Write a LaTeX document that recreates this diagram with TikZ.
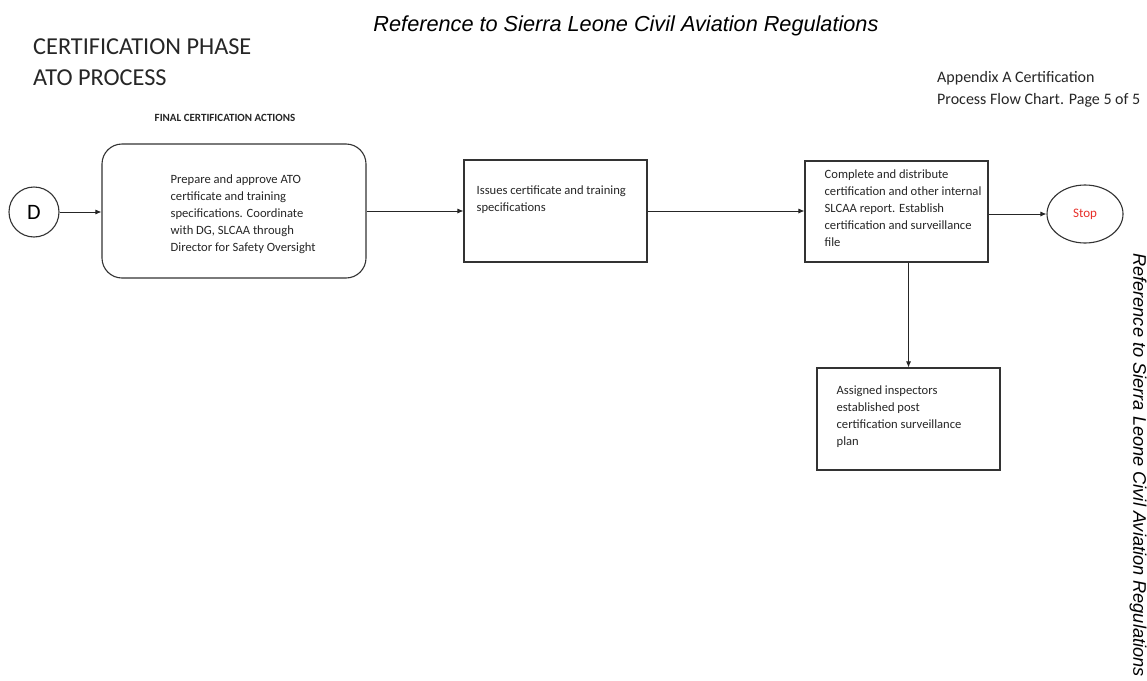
\documentclass[tikz,border=0pt]{standalone}
\usepackage{fontspec}
\setmainfont{Carlito}
\newfontfamily\arialfont{Liberation Sans}
\usetikzlibrary{shapes.geometric,arrows.meta,calc}
\definecolor{lineg}{HTML}{333333}
\definecolor{stopred}{HTML}{E8302A}
\tikzset{
  boxshape/.style={draw=lineg, line width=1.1pt, inner sep=0pt},
  circshape/.style={draw=lineg, line width=1.1pt, circle, minimum size=50pt, inner sep=0pt},
  boxtext/.style={inner sep=0pt, align=left, font=\fontsize{12.6}{17}\selectfont, text=black!85},
  conn/.style={draw=black!85, line width=0.9pt, -{Latex[length=6pt,width=5pt]}},
}
\begin{document}
\begin{tikzpicture}[x=1pt,y=-1pt]
\useasboundingbox[fill=white] (0,0) rectangle (1147,680);

% titles
\node[inner sep=0pt, font=\arialfont\itshape\fontsize{21.7}{24}\selectfont] (title) at (626,26) {Reference to Sierra Leone Civil Aviation Regulations};
\node[inner sep=0pt, font=\arialfont\itshape\fontsize{18.2}{20}\selectfont, rotate=-90] (sidetitle) at (1138,465) {Reference to Sierra Leone Civil Aviation Regulations};
\node[inner sep=0pt, anchor=west, font=\fontsize{24.3}{28}\selectfont, text=black!85] (phase) at (33,47) {CERTIFICATION PHASE};
\node[inner sep=0pt, anchor=west, font=\fontsize{24.3}{28}\selectfont, text=black!85] (ato) at (33,78) {ATO PROCESS};
\node[inner sep=0pt, font=\bfseries\fontsize{11}{13}\selectfont, text=black!85] (final) at (225,118) {FINAL CERTIFICATION ACTIONS};
\node[inner sep=0pt, anchor=north west, align=left, font=\fontsize{16}{22}\selectfont, text=black!85] (appx) at (937,71) {Appendix A Certification\\Process Flow Chart. Page 5 of 5};

% shapes
\node[circshape, font=\fontsize{22}{24}\selectfont] (D) at (34,212) {D};
\node[boxshape, rounded corners=20pt, minimum width=264pt, minimum height=134pt] (b1) at (234,211) {};
\node[boxshape, minimum width=183pt, minimum height=102pt] (b2) at (555.5,211) {};
\node[boxshape, minimum width=183pt, minimum height=101pt] (b3) at (896.5,211.5) {};
\node[boxshape, minimum width=183pt, minimum height=102pt] (b4) at (908.5,419) {};
\node[draw=lineg, line width=1.1pt, ellipse, minimum width=76pt, minimum height=58pt, inner sep=0pt, text=stopred, font=\fontsize{13}{14}\selectfont] (stop) at (1085,214) {Stop};

% texts
\node[boxtext, anchor=north west] (t1) at ($(b1.north west)+(69,31)$) {Prepare and approve ATO\\certificate and training\\specifications. Coordinate\\with DG, SLCAA through\\Director for Safety Oversight};
\node[boxtext, anchor=north west] (t2) at ($(b2.north west)+(13,26)$) {Issues certificate and training\\specifications};
\node[boxtext, anchor=north west] (t3) at ($(b3.north west)+(20,9)$) {Complete and distribute\\certification and other internal\\SLCAA report. Establish\\certification and surveillance\\file};
\node[boxtext, anchor=north west] (t4) at ($(b4.north west)+(20,18)$) {Assigned inspectors\\established post\\certification surveillance\\plan};

% connectors
\draw[conn] (D.east) -- (b1.west |- D.east);
\draw[conn] (b1.east) -- (b2.west);
\draw[conn] (b2.east) -- (b3.west |- b2.east);
\draw[conn] (b3.east |- stop.west) -- (stop.west);
\draw[conn] (b3.south -| b4.north) -- (b4.north);
\end{tikzpicture}
\end{document}
